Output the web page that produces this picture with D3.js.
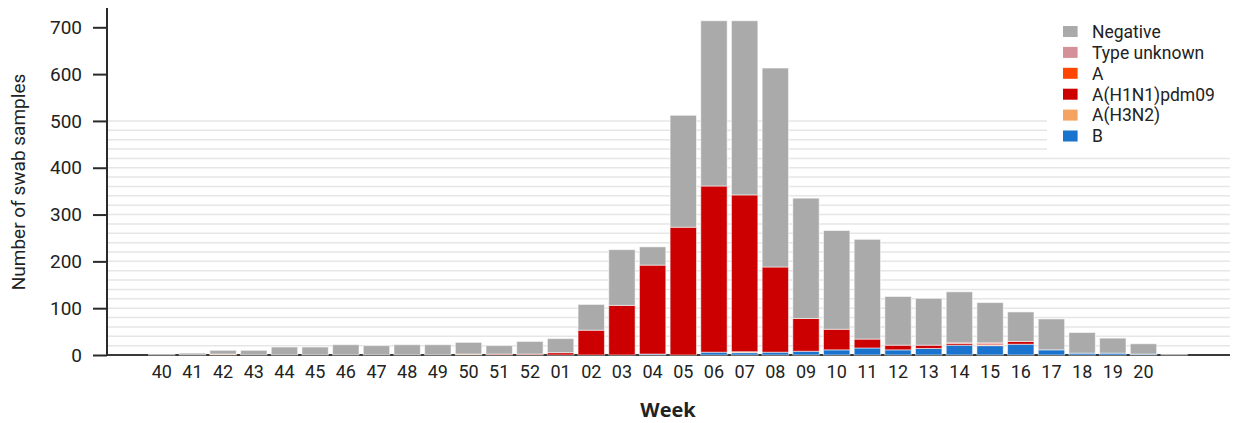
<!DOCTYPE html>
<html>
<head>
<meta charset="utf-8">
<script src="https://cdn.jsdelivr.net/npm/d3@7"></script>
<style>
  html, body { margin: 0; padding: 0; background: #fff; }
  svg text { font-family: Roboto, "Noto Sans", sans-serif; fill: #222; }
</style>
</head>
<body>
<svg id="chart" width="1238" height="423"></svg>
<script>
// Weekly influenza swab samples, stacked by result
const weeks = ['40','41','42','43','44','45','46','47','48','49','50','51','52',
               '01','02','03','04','05','06','07','08','09','10','11','12','13',
               '14','15','16','17','18','19','20','21'];
const weekLabels = ['40','41','42','43','44','45','46','47','48','49','50','51','52',
               '01','02','03','04','05','06','07','08','09','10','11','12','13',
               '14','15','16','17','18','19','20',''];

const valuesB       = [0,0,0,0,0,0,0,0,0,0,0,0,0, 0,0,0,2,0,6,5,6,8,11,15,11,14,21,20,23,11,4,4,2,0];
const valuesH3N2    = [0,0,2,0,0,0,0,0,0,0,2,0,0, 0,0,0,0,0,0,2,0,0,0,0,0,0,0,2,0,0,0,0,0,0];
const valuesH1N1    = [0,0,0,0,0,0,0,0,0,0,0,2,2, 5,53,106,190,273,355,335,182,70,44,19,10,7,4,3,6,0,0,0,0,0];
const valuesA       = [0,0,0,0,0,0,0,0,0,0,0,0,0, 0,0,0,0,0,0,0,0,0,0,0,0,0,1,1,0,0,0,0,0,0];
const valuesUnknown = [0,0,0,0,0,0,0,0,0,0,0,0,0, 0,0,0,0,0,0,0,0,0,0,0,0,0,0,0,0,0,0,0,0,0];
const valuesNeg     = [1,4,8,10,17,17,22,20,22,22,25,18,27, 30,55,119,39,239,353,372,425,257,211,213,104,100,109,86,63,66,44,32,22,1];

const seriesNames  = ['B','A(H3N2)','A(H1N1)pdm09','A','Type unknown','Negative'];
const seriesColors = ['#1a73cc','#f4a460','#cc0000','#ff4500','#d4919a','#aaaaaa'];
const seriesValues = [valuesB, valuesH3N2, valuesH1N1, valuesA, valuesUnknown, valuesNeg];

const yTicks = [0,100,200,300,400,500,600,700];
const gridValues = d3.range(20, 501, 20);

const svg = d3.select('#chart');

const x = d3.scaleBand()
  .domain(weeks)
  .range([146.4, 1189.5])
  .paddingInner(0.14)
  .paddingOuter(0.07);

const y = d3.scaleLinear()
  .domain([0, 700])
  .range([355, 27.3]);

const plotLeft = 107, plotRight = 1230;

// light horizontal grid
svg.append('g')
  .selectAll('line')
  .data(gridValues)
  .join('line')
  .attr('x1', plotLeft).attr('x2', plotRight)
  .attr('y1', d => y(d)).attr('y2', d => y(d))
  .attr('stroke', '#e6e6e6')
  .attr('stroke-width', 1.5);

// baseline
svg.append('line')
  .attr('x1', plotLeft).attr('x2', plotRight)
  .attr('y1', y(0)).attr('y2', y(0))
  .attr('stroke', '#3a3a3a')
  .attr('stroke-width', 2);

// stacked bars
const table = weeks.map((w, i) => {
  const row = { week: w };
  seriesNames.forEach((n, k) => { row[n] = seriesValues[k][i]; });
  return row;
});
const stacked = d3.stack().keys(seriesNames)(table);

svg.append('g')
  .selectAll('g')
  .data(stacked)
  .join('g')
  .attr('fill', (d, i) => seriesColors[i])
  .selectAll('rect')
  .data(d => d)
  .join('rect')
  .attr('x', d => x(d.data.week))
  .attr('width', x.bandwidth())
  .attr('y', d => y(d[1]))
  .attr('height', d => Math.max(0, y(d[0]) - y(d[1])))
  .attr('stroke', '#ffffff')
  .attr('stroke-opacity', 0.55)
  .attr('stroke-width', 1);

// y axis
const yAxis = svg.append('g')
  .attr('transform', `translate(${plotLeft},0)`)
  .call(d3.axisLeft(y).tickValues(yTicks).tickSize(14).tickPadding(11).tickSizeOuter(0));
yAxis.select('.domain').remove();
yAxis.append('line')
  .attr('x1', 0).attr('x2', 0).attr('y1', 8).attr('y2', y(0) + 1)
  .attr('stroke', '#2a2a2a').attr('stroke-width', 2);
yAxis.selectAll('.tick line').attr('stroke', '#2a2a2a').attr('stroke-width', 2);
yAxis.selectAll('.tick text')
  .style('font-size', '19px')
  .attr('fill', '#222')
  .style('font-family', 'Roboto, sans-serif');

// x axis labels
const xAxis = svg.append('g')
  .attr('transform', `translate(0,${y(0)})`)
  .call(d3.axisBottom(x).tickSize(0).tickPadding(10).tickFormat((d, i) => weekLabels[i]));
xAxis.select('.domain').remove();
xAxis.selectAll('.tick text')
  .style('font-size', '18px')
  .attr('fill', '#222')
  .style('font-family', 'Roboto, sans-serif');

// axis titles
svg.append('text')
  .attr('transform', 'translate(25,182) rotate(-90)')
  .attr('text-anchor', 'middle')
  .style('font-size', '19px')
  .text('Number of swab samples');

svg.append('text')
  .attr('x', 668).attr('y', 417)
  .attr('text-anchor', 'middle')
  .style('font-size', '20px')
  .style('font-weight', 'bold')
  .style('font-family', '"Open Sans", sans-serif')
  .text('Week');

// legend
const legend = svg.append('g');
legend.append('rect')
  .attr('x', 1047).attr('y', 10).attr('width', 183).attr('height', 142)
  .attr('fill', '#ffffff');
const legendOrder = seriesNames.slice().reverse();
const legendColors = seriesColors.slice().reverse();
const items = legend.selectAll('g.item')
  .data(legendOrder)
  .join('g')
  .attr('class', 'item')
  .attr('transform', (d, i) => `translate(1063,${31.5 + i * 20.9})`);
items.append('rect')
  .attr('x', 0).attr('y', -5.5).attr('width', 14.6).attr('height', 11)
  .attr('fill', (d, i) => legendColors[i]);
items.append('text')
  .attr('x', 29).attr('y', 0)
  .attr('dy', '0.36em')
  .style('font-size', '17.5px')
  .text(d => d);
</script>
</body>
</html>
